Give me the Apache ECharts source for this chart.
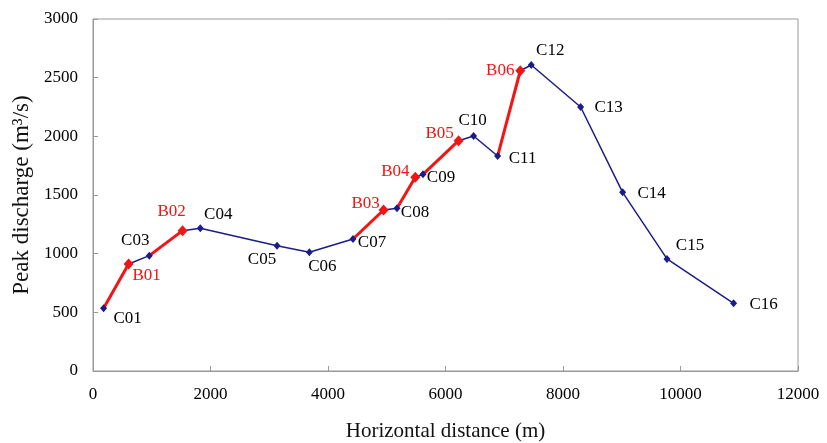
<!DOCTYPE html>
<html style="height: 100%">
<head>
  <meta charset="UTF-8">
  <title>Peak discharge</title>
</head>
<body style="height: 100%; margin: 0; background: #fff">
<div id="container" style="width: 827px; height: 443px"></div>
<script type="text/javascript" src="https://cdn.jsdelivr.net/npm/echarts@6/dist/echarts.min.js"></script>
<script type="text/javascript">
  // points ordered along the channel (C = cross section, B = branch)
  var names = ['C01', 'B01', 'C03', 'B02', 'C04', 'C05', 'C06', 'C07', 'B03', 'C08', 'B04',
               'C09', 'B05', 'C10', 'C11', 'B06', 'C12', 'C13', 'C14', 'C15', 'C16'];
  var distance = [180, 606, 958, 1525, 1826, 3132, 3682, 4426, 4946, 5174, 5486,
                  5617, 6223, 6478, 6887, 7273, 7460, 8300, 9015, 9770, 10904];
  var discharge = [534, 912, 983, 1196, 1216, 1068, 1012, 1125, 1372, 1387, 1651,
                   1676, 1963, 2003, 1832, 2559, 2608, 2250, 1523, 955, 577];
  var xTicks = [0, 2000, 4000, 6000, 8000, 10000, 12000];
  var yTicks = [0, 500, 1000, 1500, 2000, 2500, 3000];

  // label offsets (px) from each marker
  var labelOffset = {
    C01: [24, 10], B01: [18, 12], C03: [-14, -15], B02: [-11, -19], C04: [18, -14],
    C05: [-15, 14], C06: [13, 14], C07: [19, 4], B03: [-18, -6], C08: [18, 4],
    B04: [-20, -6], C09: [18, 3], B05: [-19, -7], C10: [-1, -15], C11: [25, 2],
    B06: [-20, 0], C12: [19, -14], C13: [28, 1], C14: [29, 1], C15: [23, -13], C16: [30, 1]
  };

  var BLUE = '#1c1c86';
  var RED = '#f31414';
  var FONT = '"Liberation Serif", "DejaVu Serif", serif';

  var dom = document.getElementById('container');
  var myChart = echarts.init(dom, null, { renderer: 'canvas' });

  var allPoints = names.map(function (n, i) { return [distance[i], discharge[i]]; });

  var series = [
    {
      type: 'line',
      data: allPoints,
      symbol: 'none',
      lineStyle: { color: BLUE, width: 1.5 },
      z: 2,
      animation: false
    }
  ];

  // red segments: from the previous point to each branch point
  names.forEach(function (n, i) {
    if (n.charAt(0) === 'B') {
      series.push({
        type: 'line',
        data: [allPoints[i - 1], allPoints[i]],
        symbol: 'none',
        lineStyle: { color: RED, width: 3 },
        z: 3,
        animation: false
      });
    }
  });

  series.push({
    type: 'scatter',
    symbol: 'diamond',
    z: 4,
    animation: false,
    data: names.map(function (n, i) {
      var isB = n.charAt(0) === 'B';
      return {
        value: allPoints[i],
        name: n,
        symbolSize: isB ? [10, 11] : [7, 8],
        itemStyle: { color: isB ? RED : BLUE, opacity: 1 },
        label: {
          show: true,
          position: 'inside',
          offset: labelOffset[n],
          formatter: n,
          color: isB ? RED : '#000',
          fontFamily: FONT,
          fontSize: 17
        }
      };
    })
  });

  var option = {
    backgroundColor: '#fff',
    grid: {
      left: 93,
      right: 29,
      top: 19,
      bottom: 72,
      outerBoundsMode: 'none',
      show: true,
      borderColor: '#999',
      borderWidth: 1
    },
    xAxis: {
      type: 'value',
      min: xTicks[0],
      max: xTicks[xTicks.length - 1],
      interval: xTicks[1] - xTicks[0],
      name: 'Horizontal distance (m)',
      nameLocation: 'middle',
      nameGap: 50,
      nameTextStyle: { fontFamily: FONT, fontSize: 21, color: '#111' },
      axisLine: { lineStyle: { color: '#999' } },
      axisTick: { inside: true, length: 5, lineStyle: { color: '#999' } },
      axisLabel: {
        fontFamily: FONT, fontSize: 17, color: '#000', margin: 15,
        formatter: function (v) { return String(v); }
      },
      splitLine: { show: false }
    },
    yAxis: {
      type: 'value',
      min: yTicks[0],
      max: yTicks[yTicks.length - 1],
      interval: yTicks[1] - yTicks[0],
      name: 'Peak discharge (m³/s)',
      nameLocation: 'middle',
      nameGap: 51,
      nameTextStyle: { fontFamily: FONT, fontSize: 23, color: '#111' },
      axisLine: { show: true, lineStyle: { color: '#999' } },
      axisTick: { show: true, inside: true, length: 5, lineStyle: { color: '#999' } },
      axisLabel: {
        fontFamily: FONT, fontSize: 17, color: '#000', margin: 15,
        formatter: function (v) { return String(v); }
      },
      splitLine: { show: false }
    },
    series: series
  };

  myChart.setOption(option);
  window.addEventListener('resize', myChart.resize);
</script>
</body>
</html>
